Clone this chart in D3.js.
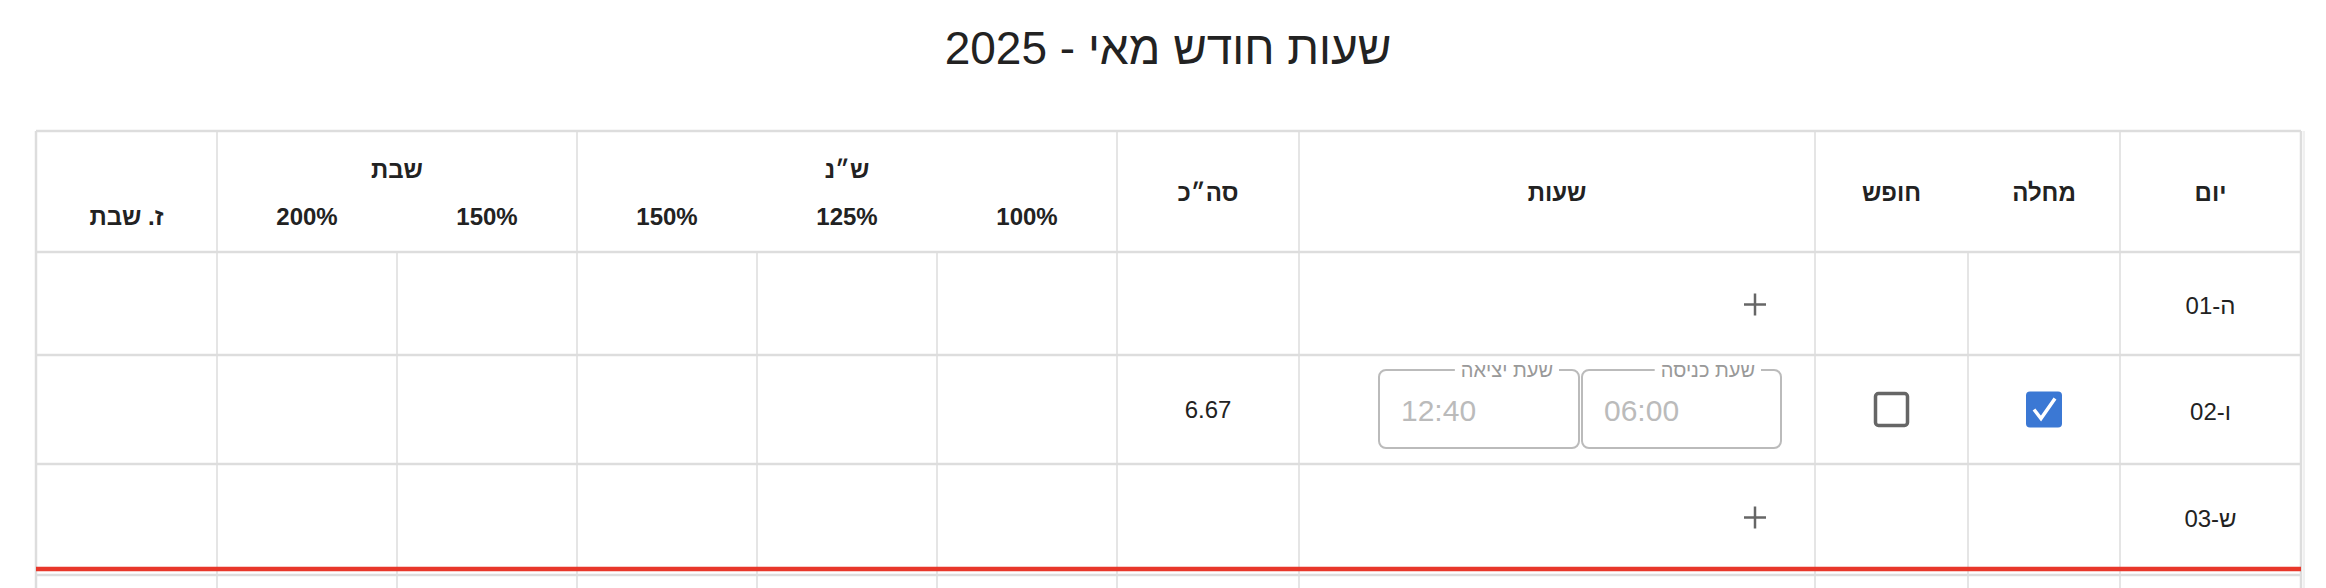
<!DOCTYPE html>
<html><head><meta charset="utf-8">
<script src="https://cdn.jsdelivr.net/npm/d3@7"></script>
<style>body{margin:0;background:#fff}svg{display:block;font-family:"Liberation Sans",Arial,sans-serif}</style>
</head><body><svg id="c" width="2326" height="588"></svg>
<script>
const title = "שעות חודש מאי - 2025"
// column edges, left to right (pixels of the page table)
const colEdges = [36, 217, 397, 577, 757, 937, 1117, 1299, 1815, 1968, 2120, 2301]
const headLines = [217, 577, 1117, 1299, 1815, 2120]
const rowEdges = [131, 252, 355, 464, 569]
// single-line headers: [from col, to col, label]
const headSingle = [[0,1,"ז. שבת"],[6,7,"סה״כ"],[7,8,"שעות"],[8,9,"חופש"],[9,10,"מחלה"],[10,11,"יום"]]
const headGroups = [[1,3,"שבת"],[3,6,"ש״נ"]]
const headSubs = [[1,"200%"],[2,"150%"],[3,"150%"],[4,"125%"],[5,"100%"]]
const days = ["ה-01","ו-02","ש-03"]
const totals = ["", "6.67", ""]
const sick = [null, true, null]
const vacation = [null, false, null]
const entryTimes = [null, "06:00", null]
const exitTimes = [null, "12:40", null]

const svg = d3.select("#c")
svg.append("text").attr("x",1168).attr("y",48).attr("text-anchor","middle").attr("dominant-baseline","central")
  .attr("font-size",46).attr("fill","#222").text(title)

const mid = (a,b) => (colEdges[a]+colEdges[b])/2
const line = (x1,y1,x2,y2,w,c) => svg.append("line").attr("x1",x1).attr("y1",y1).attr("x2",x2).attr("y2",y2).attr("stroke",c).attr("stroke-width",w)

// grid
headLines.forEach(x => line(x,rowEdges[0],x,rowEdges[1],1.5,"#ddd"))
colEdges.slice(1,-1).forEach(x => line(x,rowEdges[1],x,588,1.5,"#ddd"))
rowEdges.forEach(y => line(36,y,2301,y,2.5,"#ddd"))
line(36,575,2301,575,2.5,"#ddd")
line(36,rowEdges[0],36,588,2.5,"#ddd")
line(2301,rowEdges[0],2301,588,2.5,"#ddd")
line(2304,rowEdges[0],2304,588,2,"#f0f0f0")
line(36,569,2301,569,4.5,"#e8372a")

const txt = (x,y,s,size,w,c) => svg.append("text").attr("x",x).attr("y",y).attr("text-anchor","middle")
  .attr("dominant-baseline","central").attr("font-size",size).attr("font-weight",w).attr("fill",c).text(s)

headSingle.forEach(d => txt(mid(d[0],d[1]), d[2]==="ז. שבת"?216:192, d[2], 24, "bold", "#222"))
headGroups.forEach(d => txt(mid(d[0],d[1]),169,d[2],24,"bold","#222"))
headSubs.forEach(d => txt(mid(d[0],d[0]+1),216,d[1],24,"bold","#222"))

days.forEach((d,i) => {
  const y0 = rowEdges[i+1], y1 = rowEdges[i+2], cy = (y0+y1)/2
  txt(mid(10,11), cy+2, d, 24, "normal", "#222")
  if (totals[i]) txt(mid(6,7), cy, totals[i], 24, "normal", "#222")
  if (sick[i] !== null) {
    const x = mid(9,10)
    svg.append("rect").attr("x",x-18).attr("y",cy-18).attr("width",36).attr("height",36).attr("rx",4)
      .attr("fill", sick[i] ? "#3b78d4" : "#fff").attr("stroke", sick[i] ? "#3b78d4" : "#666").attr("stroke-width", sick[i]?0:3)
    if (sick[i]) svg.append("path").attr("d",`M${x-10},${cy} L${x-3},${cy+9} L${x+11},${cy-11}`)
      .attr("fill","none").attr("stroke","#fff").attr("stroke-width",3.5)
  }
  if (vacation[i] !== null) {
    const x = mid(8,9)
    svg.append("rect").attr("x",x-16).attr("y",cy-16).attr("width",32).attr("height",32).attr("rx",3)
      .attr("fill", vacation[i] ? "#3b78d4" : "#fff").attr("stroke","#666").attr("stroke-width",3.5)
  }
  if (entryTimes[i]) {
    [[1582,1781,"שעת כניסה",entryTimes[i]],[1379,1579,"שעת יציאה",exitTimes[i]]].forEach(b => {
      svg.append("rect").attr("x",b[0]).attr("y",370).attr("width",b[1]-b[0]).attr("height",78).attr("rx",7)
        .attr("fill","none").attr("stroke","#bbb").attr("stroke-width",2)
      const t = svg.append("text").attr("x",b[1]-26).attr("y",370).attr("text-anchor","start").attr("direction","rtl")
        .attr("dominant-baseline","central").attr("font-size",20).attr("fill","#999").text(b[2])
      const bb = t.node().getBBox()
      svg.insert("rect", "text:last-of-type").attr("x",bb.x-6).attr("y",364).attr("width",bb.width+12).attr("height",12).attr("fill","#fff")
      t.raise()
      svg.append("text").attr("x",b[0]+22).attr("y",410).attr("dominant-baseline","central")
        .attr("font-size",30).attr("fill","#bbb").text(b[3])
    })
  } else {
    const x = 1755
    line(x-11,cy+1,x+11,cy+1,2.5,"#666"); line(x,cy-10,x,cy+12,2.5,"#666")
  }
})
</script></body></html>
